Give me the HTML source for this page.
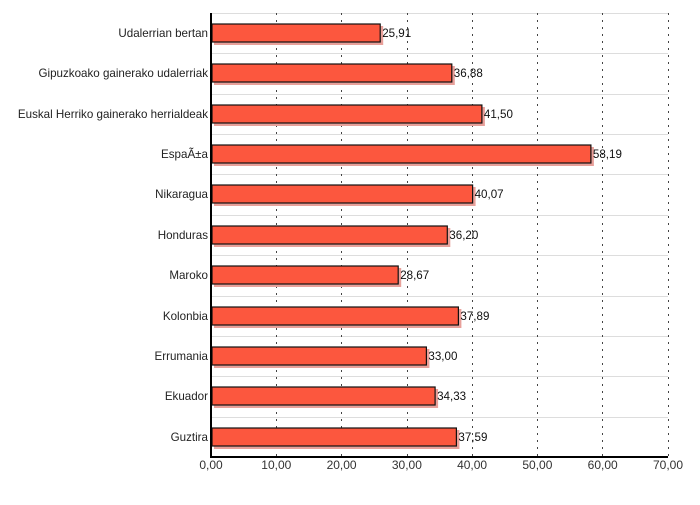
<!DOCTYPE html>
<html><head><meta charset="utf-8"><style>body{margin:0;background:#fff}</style></head><body>
<svg width="700" height="500" xmlns="http://www.w3.org/2000/svg" font-family="Liberation Sans, sans-serif" font-size="12">
<rect width="700" height="500" fill="#fff"/>
<g stroke="#ddd">
<line x1="211" y1="13.5" x2="668" y2="13.5"/><line x1="211" y1="53.5" x2="668" y2="53.5"/><line x1="211" y1="94.5" x2="668" y2="94.5"/><line x1="211" y1="134.5" x2="668" y2="134.5"/><line x1="211" y1="174.5" x2="668" y2="174.5"/><line x1="211" y1="215.5" x2="668" y2="215.5"/><line x1="211" y1="255.5" x2="668" y2="255.5"/><line x1="211" y1="296.5" x2="668" y2="296.5"/><line x1="211" y1="336.5" x2="668" y2="336.5"/><line x1="211" y1="376.5" x2="668" y2="376.5"/><line x1="211" y1="417.5" x2="668" y2="417.5"/>
</g>
<g stroke="#444" stroke-dasharray="2,5">
<line x1="276.5" y1="13" x2="276.5" y2="457"/><line x1="341.5" y1="13" x2="341.5" y2="457"/><line x1="407.5" y1="13" x2="407.5" y2="457"/><line x1="472.5" y1="13" x2="472.5" y2="457"/><line x1="537.5" y1="13" x2="537.5" y2="457"/><line x1="602.5" y1="13" x2="602.5" y2="457"/><line x1="668.5" y1="13" x2="668.5" y2="457"/>
</g>
<g fill="#333" text-anchor="middle">
<text x="211" y="469">0,00</text><text x="276.3" y="469">10,00</text><text x="341.6" y="469">20,00</text><text x="406.9" y="469">30,00</text><text x="472.1" y="469">40,00</text><text x="537.4" y="469">50,00</text><text x="602.7" y="469">60,00</text><text x="668" y="469">70,00</text>
</g>
<g fill="#e8a09a">
<rect x="214" y="26" width="169.2" height="19"/><rect x="214" y="66" width="240.8" height="19"/><rect x="214" y="107" width="270.9" height="19"/><rect x="214" y="147" width="379.9" height="19"/><rect x="214" y="187" width="261.6" height="19"/><rect x="214" y="228" width="236.3" height="19"/><rect x="214" y="268" width="187.2" height="19"/><rect x="214" y="309" width="247.4" height="19"/><rect x="214" y="349" width="215.4" height="19"/><rect x="214" y="389" width="224.1" height="19"/><rect x="214" y="430" width="245.4" height="19"/>
</g>
<g fill="#fc573e" stroke="#111" stroke-width="1.2">
<rect x="212" y="24" width="168.2" height="18"/><rect x="212" y="64" width="239.8" height="18"/><rect x="212" y="105" width="269.9" height="18"/><rect x="212" y="145" width="378.9" height="18"/><rect x="212" y="185" width="260.6" height="18"/><rect x="212" y="226" width="235.3" height="18"/><rect x="212" y="266" width="186.2" height="18"/><rect x="212" y="307" width="246.4" height="18"/><rect x="212" y="347" width="214.4" height="18"/><rect x="212" y="387" width="223.1" height="18"/><rect x="212" y="428" width="244.4" height="18"/>
</g>
<g fill="#111" font-size="11.6">
<text x="382.2" y="37">25,91</text><text x="453.8" y="77">36,88</text><text x="483.9" y="118">41,50</text><text x="592.9" y="158">58,19</text><text x="474.6" y="198">40,07</text><text x="449.3" y="239">36,20</text><text x="400.2" y="279">28,67</text><text x="460.4" y="320">37,89</text><text x="428.4" y="360">33,00</text><text x="437.1" y="400">34,33</text><text x="458.4" y="441">37,59</text>
</g>
<g fill="#222" text-anchor="end" font-size="11.6">
<text x="208" y="37">Udalerrian bertan</text><text x="208" y="77">Gipuzkoako gainerako udalerriak</text><text x="208" y="118">Euskal Herriko gainerako herrialdeak</text><text x="208" y="158">EspaÃ±a</text><text x="208" y="198">Nikaragua</text><text x="208" y="239">Honduras</text><text x="208" y="279">Maroko</text><text x="208" y="320">Kolonbia</text><text x="208" y="360">Errumania</text><text x="208" y="400">Ekuador</text><text x="208" y="441">Guztira</text>
</g>
<line x1="211" y1="13" x2="211" y2="458" stroke="#000" stroke-width="2"/>
<line x1="210" y1="457" x2="668" y2="457" stroke="#000" stroke-width="2"/>
</svg>
</body></html>
